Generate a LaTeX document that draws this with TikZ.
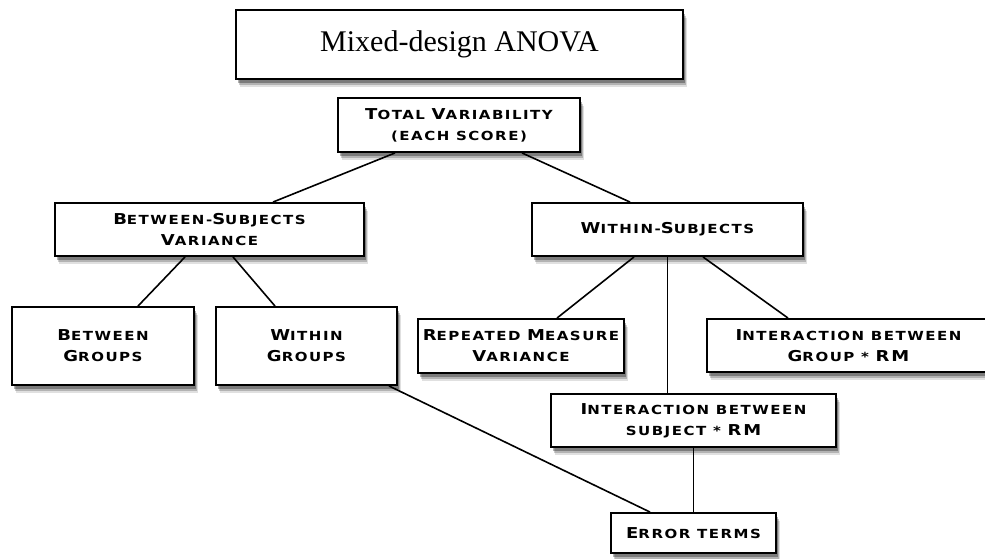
\documentclass[tikz,border=0pt]{standalone}
\usepackage{fontspec}
\usetikzlibrary{shadows}
\newfontfamily\cpfont[FakeStretch=1.2,LetterSpace=12]{DejaVu Sans Bold}
\newfontfamily\ttlfont{Liberation Serif}
\newcommand\Bg[1]{{\fontsize{15}{21}\selectfont #1}}
\begin{document}
\begin{tikzpicture}[x=1pt,y=-1pt,
  box/.style={draw=black,line width=1.9pt,fill=white,align=center,inner sep=0pt,
    font=\cpfont\fontsize{12.5}{21}\selectfont,
    drop shadow={shadow xshift=4pt,shadow yshift=-8pt,opacity=.12,fill=black},
    drop shadow={shadow xshift=3pt,shadow yshift=-6pt,opacity=.2,fill=black},
    drop shadow={shadow xshift=2pt,shadow yshift=-4pt,opacity=.3,fill=black}},
  conn/.style={draw=black,line width=1.6pt}]
\useasboundingbox (0,0) rectangle (985,558);
\fill[white] (0,0) rectangle (985,558);
\node[box,minimum width=447pt,minimum height=69pt,font=\ttlfont\fontsize{30}{34}\selectfont] (title) at (459.5,44.5) {Mixed-design ANOVA};
\node[box,minimum width=242pt,minimum height=54pt] (total) at (459,125) {\Bg{T}OTAL \Bg{V}ARIABILITY\\(EACH SCORE)};
\node[box,minimum width=309pt,minimum height=53pt] (bs) at (209.5,229.5) {\Bg{B}ETWEEN-\Bg{S}UBJECTS\\\Bg{V}ARIANCE};
\node[box,minimum width=182pt,minimum height=78pt] (bg) at (103,346) {\Bg{B}ETWEEN\\\Bg{G}ROUPS};
\node[box,minimum width=181pt,minimum height=78pt] (wg) at (306.5,346) {\Bg{W}ITHIN\\\Bg{G}ROUPS};
\node[box,minimum width=271pt,minimum height=53pt] (ws) at (667.5,229.5) {\Bg{W}ITHIN-\Bg{S}UBJECTS};
\node[box,minimum width=206pt,minimum height=54pt] (rm) at (521,346) {\Bg{R}EPEATED \Bg{M}EASURE\\\Bg{V}ARIANCE};
\node[box,minimum width=283pt,minimum height=53pt] (grm) at (848.5,345.5) {\Bg{I}NTERACTION BETWEEN\\\Bg{G}ROUP * \Bg{RM}};
\node[box,minimum width=285pt,minimum height=53pt] (srm) at (693.5,420.5) {\Bg{I}NTERACTION BETWEEN\\SUBJECT * \Bg{RM}};
\node[box,minimum width=165pt,minimum height=40pt] (err) at (693.5,533) {\Bg{E}RROR TERMS};
\draw[conn] ([xshift=-64pt]total.south) -- ([xshift=63.5pt]bs.north);
\draw[conn] ([xshift=63pt]total.south) -- ([xshift=-37.5pt]ws.north);
\draw[conn] ([xshift=-24.5pt]bs.south) -- ([xshift=35pt]bg.north);
\draw[conn] ([xshift=23.5pt]bs.south) -- ([xshift=-31.5pt]wg.north);
\draw[conn] ([xshift=-33.5pt]ws.south) -- ([xshift=36pt]rm.north);
\draw[conn] (ws.south) -- (ws.south |- srm.north);
\draw[conn] ([xshift=35.5pt]ws.south) -- ([xshift=-60.5pt]grm.north);
\draw[conn] ([xshift=-9pt]wg.south east) -- ([xshift=-43.5pt]err.north);
\draw[conn] (srm.south) -- (err.north);
\end{tikzpicture}
\end{document}
